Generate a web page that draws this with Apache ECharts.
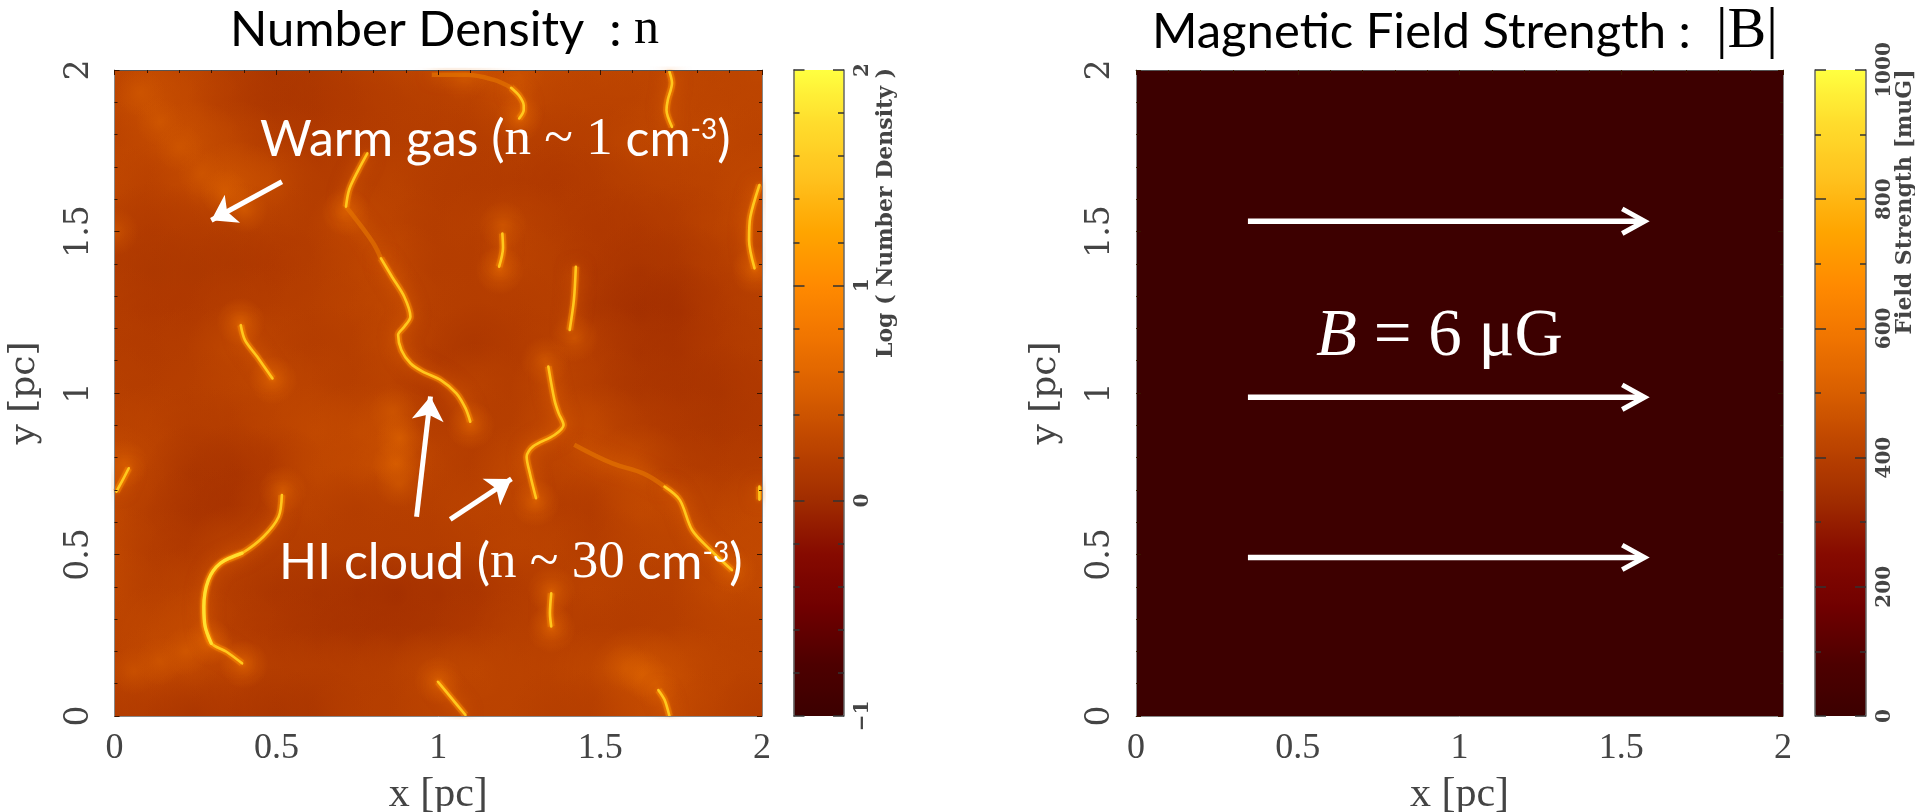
<!DOCTYPE html>
<html><head><meta charset="utf-8">
<style>html,body{margin:0;padding:0;background:#fff;overflow:hidden}#c{width:1915px;height:812px}</style>
<script src="https://cdn.jsdelivr.net/npm/echarts@6/dist/echarts.min.js"></script>
</head><body><div id="c"></div>
<script>
// ---------- axis ranges and colour scale ----------
const spaceRange = [0, 2];
const densityRange = [-1, 2];
const fieldRange = [0, 1000];
const colorStops = ['#3c0000','#4e0000','#700000','#860a00','#a02c00','#bc4400','#d85e00','#f07400','#ff8a00','#ffa500','#ffc21e','#ffdc2c','#ffff40'];

const latticeX = [0,.125,.25,.375,.5,.625,.75,.875,1,1.125,1.25,1.375,1.5,1.625,1.75,1.875,2];
const latticeY = [2,1.875,1.75,1.625,1.5,1.375,1.25,1.125,1,.875,.75,.625,.5,.375,.25,.125,0];
const densityRows = [
[.28,.30,.27,.18,.10,.12,.18,.24,.30,.35,.35,.30,.28,.28,.28,.26,.28],
[.26,.38,.30,.18,.10,.10,.14,.18,.20,.22,.33,.24,.24,.24,.28,.26,.26],
[.24,.30,.38,.28,.18,.14,.16,.18,.18,.18,.20,.18,.20,.28,.28,.28,.24],
[.30,.22,.30,.42,.33,.18,.18,.24,.18,.16,.16,.13,.16,.20,.22,.24,.30],
[.20,.16,.18,.18,.20,.18,.30,.24,.18,.20,.24,.18,.13,.13,.16,.24,.30],
[.16,.12,.12,.12,.13,.18,.24,.30,.18,.18,.24,.20,.13,.08,.10,.18,.24],
[.18,.13,.13,.18,.18,.20,.24,.28,.20,.18,.18,.20,.10,.03,.03,.13,.20],
[.18,.16,.18,.28,.24,.18,.20,.28,.18,.10,.16,.20,.18,.08,.06,.13,.18],
[.20,.18,.20,.24,.28,.24,.20,.24,.13,.24,.18,.28,.18,.10,.08,.08,.13],
[.24,.24,.18,.18,.24,.30,.30,.36,.18,.18,.20,.30,.30,.18,.13,.10,.13],
[.35,.24,.10,.08,.13,.28,.30,.36,.24,.18,.30,.24,.30,.35,.18,.16,.18],
[.30,.18,.08,.06,.18,.24,.18,.20,.20,.24,.24,.18,.16,.30,.30,.24,.30],
[.30,.18,.13,.24,.18,.18,.18,.18,.18,.20,.24,.24,.18,.24,.26,.30,.30],
[.30,.20,.24,.18,.10,.08,.06,.03,.06,.08,.16,.20,.24,.20,.20,.30,.30],
[.24,.28,.32,.18,.13,.08,.06,.06,.08,.13,.20,.20,.18,.18,.20,.24,.24],
[.24,.30,.30,.24,.18,.18,.18,.20,.28,.28,.24,.24,.28,.42,.35,.26,.24],
[.18,.16,.10,.13,.10,.10,.18,.20,.24,.24,.24,.20,.20,.30,.32,.24,.18]];
const uniformField = [[0, 0, 6]];
// local brightenings [x, y, log n] along soft ridges and at filament tips
const softSpots = [[.08,1.93,.42],[.14,1.84,.44],[.2,1.76,.42],[.27,1.68,.42],[.34,1.62,.5],[.4,1.57,.5],
  [.86,.94,.42],[.88,.86,.52],[.87,.78,.55],[.88,.72,.42],
  [.06,.14,.38],[.14,.17,.42],[.22,.2,.46],[.29,.23,.55],
  [1.58,.15,.45],[1.63,.13,.52],[1.67,.1,.5],
  [.03,.78,.5],[1.25,1.85,.55],[.715,1.56,.55],[1.19,1.38,.55],[1.2,1.52,.45],[1.98,1.38,.55],[.49,1.04,.55],[1.1,.9,.55],[1.3,.66,.55],[.39,1.22,.55],[.52,.7,.5],[.4,.16,.55],[1.35,.27,.55],[1.35,.39,.5],[1.0,.11,.5],[1.42,1.17,.45],[1.25,1.98,.4],[1.08,1.98,.42],[1.33,1.1,.45],[1.91,.45,.5],[.0,1.5,.42]];

// ---------- dense filaments [x, y] in pc ----------
const filTopRight = [[1.714,1.995],[1.722,1.96],[1.709,1.907],[1.705,1.876],[1.722,1.824]];
const filTopArc = [[1.225,1.945],[1.25,1.92],[1.264,1.89],[1.264,1.876],[1.25,1.85]];
const filUpperLeft = [[.781,1.742],[.753,1.69],[.725,1.63],[.715,1.577]];
const filCentre = [[.823,1.417],[.857,1.36],[.895,1.298],[.914,1.236],[.895,1.205],[.876,1.18],[.886,1.133],[.914,1.092],[.952,1.066],[1.008,1.04],[1.056,.999],[1.084,.953],[1.099,.911]];
const filShort = [[1.198,1.494],[1.2,1.45],[1.188,1.391]];
const filTall = [[1.425,1.391],[1.419,1.288],[1.406,1.195]];
const filEdge = [[1.992,1.644],[1.964,1.546],[1.96,1.474],[1.977,1.386]];
const filLeftDash = [[.39,1.21],[.403,1.164],[.441,1.112],[.488,1.045]];
const filZigzag = [[1.34,1.082],[1.359,.978],[1.372,.937],[1.387,.901],[1.359,.87],[1.292,.834],[1.273,.803],[1.283,.751],[1.302,.674]];
const filRightCurve = [[1.699,.71],[1.746,.669],[1.784,.576],[1.841,.514],[1.907,.452]];
const filSwoop = [[.517,.684],[.507,.617],[.46,.555],[.394,.504],[.327,.473],[.29,.421],[.276,.338],[.28,.277],[.299,.225],[.346,.199],[.394,.163]];
const filLower = [[1.349,.38],[1.345,.318],[1.349,.277]];
const filBottomMid = [[.999,.106],[1.037,.06],[1.084,.003]];
const filBottomRight = [[1.68,.08],[1.699,.05],[1.714,0]];
const filLeftEdge = [[.044,.767],[.025,.73],[.006,.695]];
const filRightEdge = [[1.992,.71],[1.992,.67]];
const brightFilaments = [filTopRight,filTopArc,filUpperLeft,filCentre,filShort,filTall,filEdge,filLeftDash,filZigzag,filRightCurve,filSwoop,filLower,filBottomMid,filBottomRight,filLeftEdge,filRightEdge];
const hottestCore = [[.394,.504],[.327,.473],[.29,.421],[.276,.338],[.28,.277],[.299,.225]];

// ---------- faint ridges joined to the filaments ----------
const ridgeTop = [[.98,1.985],[1.084,1.985],[1.17,1.97],[1.225,1.945]];
const ridgeUpper = [[.715,1.577],[.763,1.515],[.80,1.463],[.823,1.417]];
const ridgeRight = [[1.42,.84],[1.538,.782],[1.633,.751],[1.699,.71]];
const thinRidges = [ridgeTop,ridgeUpper,ridgeRight];

// ---------- annotation arrows ----------
const arrowWarm = [[.517,1.654],[.299,1.535]];
const arrowCloudA = [[.933,.617],[.976,.989]];
const arrowCloudB = [[1.037,.609],[1.226,.734]];
const fieldLines = [1.532, .987, .491];
const fieldLineX = [.346, 1.565];
const chevronX = [1.503, 1.572, 1.503];
const chevronDY = [.038, 0, -.038];

const serif = 'Liberation Serif', gnu = 'DejaVu Serif', sans = 'Lato';
const ink = '#444';
const chart = echarts.init(document.getElementById('c'), null, {renderer:'canvas'});

const fieldData = [];
densityRows.forEach((row, j) => row.forEach((v, i) => fieldData.push([latticeX[i], latticeY[j], v])));

function plotAxes(grid) {
  const tick = {inside:true, length:5, lineStyle:{color:'#3a1500', width:1}};
  const minor = {show:true, splitNumber:5, length:3, lineStyle:{color:'#3a1500', width:1}};
  const line = {show:true, onZero:false, lineStyle:{color:'#888', width:1}};
  const common = {type:'value', min:spaceRange[0], max:spaceRange[1], interval:.5, gridIndex:grid, splitLine:{show:false}, z:5};
  return {
    x:[{...common, position:'bottom', axisLine:line, axisTick:{show:false}, minorTick:{show:false}, name:'x [pc]', nameLocation:'middle', nameGap:58,
        nameTextStyle:{fontFamily:serif, fontSize:42, color:ink},
        axisLabel:{fontFamily:serif, fontSize:36, color:ink, margin:15, formatter:v=>String(v)}},
       {...common, position:'top', axisLine:{...line, lineStyle:{color:'#555',width:1}}, axisTick:tick, minorTick:minor, axisLabel:{show:false}}],
    y:[{...common, position:'left', axisLine:line, axisTick:tick, minorTick:minor, name:'y [pc]', nameLocation:'middle', nameGap:72, nameRotate:90,
        nameTextStyle:{fontFamily:gnu, fontSize:36, color:ink},
        axisLabel:{fontFamily:gnu, fontSize:33, color:ink, rotate:90, margin:19, formatter:v=>String(v)}},
       {...common, position:'right', axisLine:line, axisTick:tick, minorTick:minor, axisLabel:{show:false}}]
  };
}
function barAxes(grid, range, major, div) {
  const tick = {inside:true, length:11, lineStyle:{color:'#333', width:1.5}};
  const minor = {show:true, splitNumber:div, length:6, lineStyle:{color:'#333', width:1.5}};
  const line = {show:true, onZero:false, lineStyle:{color:'#666', width:1.5}};
  const common = {type:'value', min:range[0], max:range[1], interval:major, gridIndex:grid, splitLine:{show:false}, z:5};
  return {
    x:[{type:'value', gridIndex:grid, min:0, max:1, show:false}],
    y:[{...common, position:'left', axisLine:line, axisTick:tick, minorTick:minor, axisLabel:{show:false}},
       {...common, position:'right', axisLine:line, axisTick:tick, minorTick:minor,
        axisLabel:{fontFamily:gnu, fontSize:20, fontWeight:'bold', color:'#444', rotate:90, margin:9, formatter:v=>String(v).replace('-','\u2212')}}]
  };
}
const a0 = plotAxes(0), a1 = barAxes(1, densityRange, 1, 5), a2 = plotAxes(2), a3 = barAxes(3, fieldRange, 200, 2);

const lineBase = {type:'line', showSymbol:false, symbol:'none', silent:true, animation:false, clip:true, xAxisIndex:0, yAxisIndex:0};
function splat(scale, inner, mid){
  return function(params, api){
     const p = api.coord([api.value(0), api.value(1)]);
     const r = api.size([.125,.125])[0]*scale;
     const c = api.visual('color');
     return {type:'circle', shape:{cx:p[0], cy:p[1], r},
       style:{fill:new echarts.graphic.RadialGradient(.5,.5,.5,[
         {offset:0,color:echarts.color.modifyAlpha(c,inner)},
         {offset:.5,color:echarts.color.modifyAlpha(c,mid)},
         {offset:1,color:echarts.color.modifyAlpha(c,0)}])}};
  };
}
const series = [
  {type:'custom', xAxisIndex:0, yAxisIndex:0, clip:true, silent:true, animation:false, data:fieldData, encode:{x:0,y:1}, renderItem:splat(1.25,.95,.5)},
  {type:'custom', xAxisIndex:3, yAxisIndex:4, clip:true, silent:true, animation:false, data:uniformField, encode:{x:0,y:1},
   renderItem(params, api){
     const a = api.coord([0,2]), b = api.coord([2,0]);
     return {type:'rect', shape:{x:a[0], y:a[1], width:b[0]-a[0], height:b[1]-a[1]}, style:{fill:api.visual('color')}};
   }},
  {type:'custom', xAxisIndex:0, yAxisIndex:0, clip:true, silent:true, animation:false, data:softSpots, encode:{x:0,y:1}, renderItem:splat(.6,.75,.3)}
];
thinRidges.forEach(d => series.push({...lineBase, data:d, smooth:.4, lineStyle:{color:'#e87800', width:4.5, opacity:.6, shadowBlur:16, shadowColor:'#e87000'}}));
brightFilaments.forEach(d => series.push({...lineBase, data:d, smooth:.3, lineStyle:{color:'#f08000', width:7, opacity:.5, shadowBlur:16, shadowColor:'#f07000'}}));
brightFilaments.forEach(d => series.push({...lineBase, data:d, smooth:.3, lineStyle:{color:'#ffc81e', width:2.6, shadowBlur:4, shadowColor:'#ff9000', cap:'round'}}));
series.push({...lineBase, data:hottestCore, smooth:.3, lineStyle:{color:'#ffe030', width:3.4, shadowBlur:4, shadowColor:'#ff9000', cap:'round'}});
series.push({type:'lines', coordinateSystem:'cartesian2d', xAxisIndex:0, yAxisIndex:0, silent:true, animation:false, z:8,
  symbol:['none','arrow'], symbolSize:24, lineStyle:{color:'#fff', width:5, opacity:1, curveness:0},
  data:[arrowWarm,arrowCloudA,arrowCloudB].map(c=>({coords:c}))});
fieldLines.forEach(y => {
  series.push({...lineBase, xAxisIndex:3, yAxisIndex:4, z:8, data:fieldLineX.map(x=>[x,y]), lineStyle:{color:'#fff', width:5.5}});
  series.push({...lineBase, xAxisIndex:3, yAxisIndex:4, z:8, data:chevronX.map((x,i)=>[x,y+chevronDY[i]]), lineStyle:{color:'#fff', width:5, join:'miter'}});
});

const titleRich = {a:{fontFamily:sans,fontSize:49,fontWeight:'normal',color:'#000'}, b:{fontFamily:serif,fontSize:50,fontWeight:'normal',color:'#000'}, c:{fontFamily:serif,fontSize:58,fontWeight:'normal',color:'#000'}};
const noteRich = {a:{fontFamily:sans,fontSize:50,fill:'#fff'}, b:{fontFamily:serif,fontSize:53,fill:'#fff'}, s:{fontFamily:sans,fontSize:28,fill:'#fff',padding:[0,0,20,0]}};
function gtext(x,y,rich,text){return {type:'text',x,y,z:20,silent:true,style:{text,rich,textVerticalAlign:'middle'}};}

chart.setOption({
  animation:false,
  title:[
    {text:'{a|Number Density  : }{b|n}', left:230, top:5, padding:0, textStyle:{rich:titleRich}},
    {text:'{a|Magnetic Field Strength :  }{c||B|}', left:1152, top:3, padding:0, textStyle:{rich:titleRich}}
  ],
  grid:[
    {left:114.5, top:70, width:647.5, height:646, show:true, backgroundColor:'#b63e00', borderWidth:0, outerBoundsMode:'none'},
    {left:793.5, top:70, width:50.5, height:646, outerBoundsMode:'none'},
    {left:1136, top:70, width:647, height:646, show:false, outerBoundsMode:'none'},
    {left:1815, top:70, width:51, height:646, outerBoundsMode:'none'}
  ],
  xAxis:[...a0.x,...a1.x,...a2.x,...a3.x],
  yAxis:[...a0.y,...a1.y,...a2.y,...a3.y],
  visualMap:[
    {type:'continuous', min:densityRange[0], max:densityRange[1], dimension:2, seriesIndex:[0,2], inRange:{color:colorStops}, left:793.5, top:70, itemWidth:50.5, itemHeight:646, padding:0, calculable:false, showLabel:false, text:null, hoverLink:false, realtime:false, z:1},
    {type:'continuous', min:fieldRange[0], max:fieldRange[1], dimension:2, seriesIndex:1, inRange:{color:colorStops}, left:1815, top:70, itemWidth:51, itemHeight:646, padding:0, calculable:false, showLabel:false, text:null, hoverLink:false, realtime:false, z:1}
  ],
  series,
  graphic:{elements:[
    gtext(260,140,noteRich,'{a|Warm gas (}{b|n ~ 1}{a| cm}{s|-3}{a|)}'),
    gtext(279,563,noteRich,'{a|HI cloud (}{b|n ~ 30}{a| cm}{s|-3}{a|)}'),
    {type:'text',x:1316,y:337,z:20,silent:true,style:{text:'{i|B}{n| = 6 μG}',rich:{i:{fontFamily:serif,fontStyle:'italic',fontSize:67,fill:'#fff'},n:{fontFamily:serif,fontSize:67,fill:'#fff'}},textVerticalAlign:'middle'}},
    {type:'text',x:886,y:213,rotation:Math.PI/2,z:20,silent:true,style:{text:'Log ( Number Density )',fontFamily:gnu,fontSize:22,fontWeight:'bold',fill:'#444',align:'center',verticalAlign:'middle'}},
    {type:'text',x:1905,y:202,rotation:Math.PI/2,z:20,silent:true,style:{text:'Field Strength [muG]',fontFamily:gnu,fontSize:22,fontWeight:'bold',fill:'#444',align:'center',verticalAlign:'middle'}}
  ]}
});
</script></body></html>
